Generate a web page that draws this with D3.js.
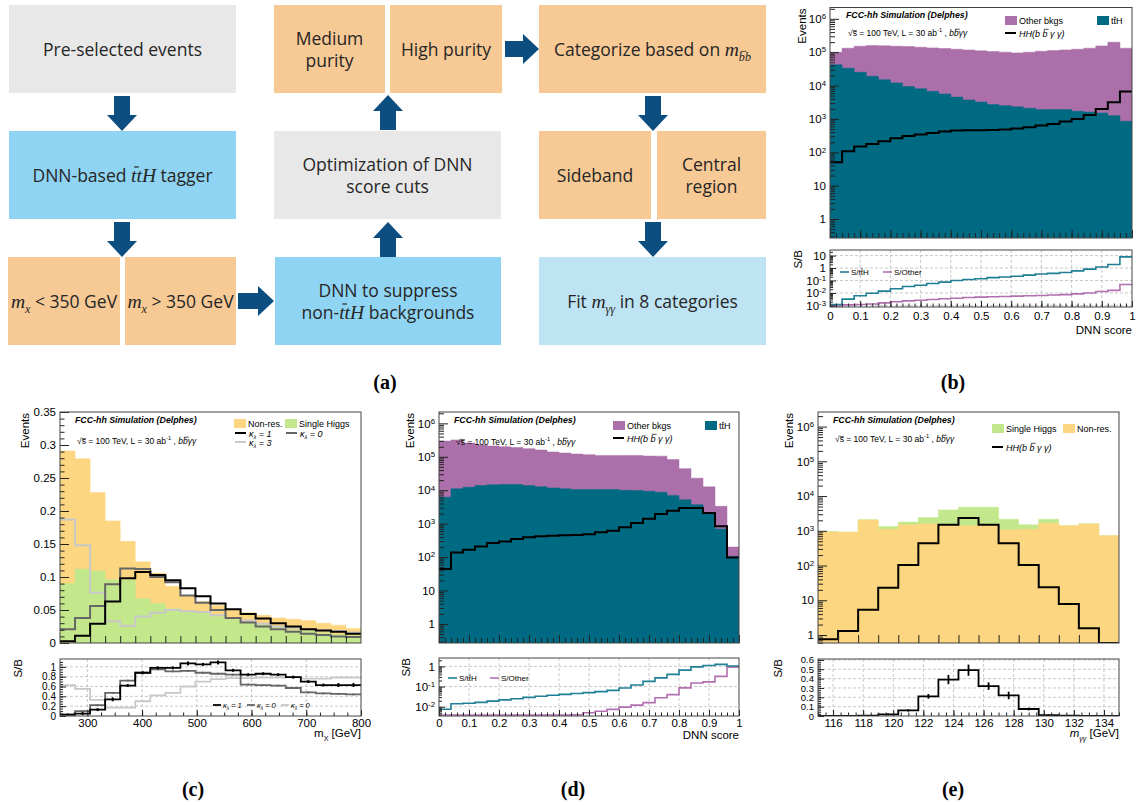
<!DOCTYPE html>
<html><head><meta charset="utf-8">
<script src="https://cdn.jsdelivr.net/npm/d3@7/dist/d3.min.js"></script>
<style>html,body{margin:0;padding:0;background:#fff}svg{display:block}</style>
</head><body>
<svg id="fig" width="1137" height="805"></svg>
<script>
// ================= DATA =================
// (b) DNN ttH-tagger score, 25 bins on [0,1]
const dnnRange = [0, 1];
const dnnBins = 25;
const bTtH   = [4.2e4,3.3e4,2.5e4,1.9e4,1.5e4,1.2e4,9.3e3,8.0e3,6.7e3,5.6e3,4.5e3,3.7e3,3.2e3,2.7e3,2.5e3,2.3e3,2.1e3,1.9e3,1.9e3,1.9e3,1.7e3,1.6e3,1.5e3,1.25e3,850];
const bOther = [5.8e4,9.9e4,1.26e5,1.39e5,1.4e5,1.39e5,1.39e5,1.33e5,1.28e5,1.23e5,1.18e5,1.13e5,1.07e5,1.02e5,9.8e4,9.3e4,9.8e4,1.05e5,1.1e5,1.15e5,1.21e5,1.3e5,1.53e5,1.99e5,1.31e5];
const bHH    = [50,107,148,178,214,263,309,339,380,417,447,457,457,468,479,513,562,631,708,832,1000,1318,1995,3160,6600];
const bRatioTtH   = [1.2e-3,3.2e-3,5.9e-3,9.4e-3,1.4e-2,2.2e-2,3.3e-2,4.2e-2,5.7e-2,7.4e-2,9.9e-2,0.12,0.14,0.17,0.19,0.22,0.27,0.33,0.37,0.44,0.59,0.82,1.2,1.9,7.8];
const bRatioOther = [9e-4,1.1e-3,1.2e-3,1.3e-3,1.6e-3,2.0e-3,2.3e-3,2.6e-3,3.0e-3,3.4e-3,3.8e-3,4.3e-3,4.6e-3,5.0e-3,5.2e-3,5.6e-3,5.9e-3,6.3e-3,6.8e-3,7.4e-3,8.5e-3,1.0e-2,1.3e-2,1.6e-2,4.8e-2];

// (c) m_X, 20 bins on [250,800] GeV
const mxRange = [250, 800];
const mxBins = 20;
const cSingleH = [0.090,0.112,0.109,0.096,0.096,0.067,0.060,0.052,0.048,0.046,0.040,0.036,0.031,0.028,0.023,0.020,0.018,0.015,0.013,0.011];
const cNonRes  = [0.201,0.167,0.119,0.089,0.058,0.056,0.046,0.034,0.024,0.017,0.017,0.015,0.015,0.014,0.015,0.016,0.016,0.015,0.014,0.011];
const cK1 = [0.0025,0.011,0.029,0.063,0.098,0.1075,0.103,0.095,0.083,0.071,0.060,0.051,0.044,0.037,0.030,0.025,0.021,0.019,0.017,0.014];
const cK0 = [0.021,0.038,0.056,0.089,0.113,0.112,0.100,0.092,0.072,0.061,0.050,0.038,0.031,0.025,0.021,0.017,0.014,0.012,0.010,0.009];
const cK3 = [0.187,0.148,0.076,0.033,0.026,0.040,0.046,0.050,0.048,0.047,0.042,0.038,0.034,0.029,0.025,0.023,0.021,0.019,0.018,0.016];
const cRatioK1 = [0.03,0.05,0.13,0.34,0.62,0.88,0.98,0.98,1.07,1.05,1.09,0.93,0.84,0.86,0.84,0.79,0.70,0.63,0.63,0.63];
const cRatioK1Err = [0.02,0.03,0.03,0.04,0.03,0.03,0.03,0.03,0.04,0.03,0.04,0.03,0.03,0.03,0.03,0.03,0.03,0.03,0.04,0.04];
const cRatioK0 = [0.03,0.10,0.22,0.47,0.72,0.88,0.95,0.91,0.92,0.88,0.86,0.84,0.64,0.63,0.62,0.57,0.48,0.46,0.45,0.44];
const cRatioK0Err = [0.01,0.02,0.02,0.02,0.02,0.02,0.02,0.02,0.02,0.02,0.02,0.02,0.02,0.02,0.02,0.02,0.02,0.02,0.02,0.02];
const cRatioK3 = [0.63,0.55,0.33,0.17,0.17,0.30,0.42,0.47,0.60,0.70,0.75,0.77,0.77,0.78,0.78,0.79,0.76,0.76,0.78,0.78];

// (d) DNN score (non-ttH suppression), 25 bins on [0,1]
const dTtH   = [6.2e3,1.1e4,1.23e4,1.38e4,1.45e4,1.48e4,1.48e4,1.38e4,1.26e4,1.17e4,1.1e4,1.05e4,1.05e4,1.05e4,1.05e4,1.0e4,9.8e3,9.3e3,8.7e3,7.0e3,5.2e3,3.7e3,2.1e3,690,105];
const dOther = [2.89e5,3.09e5,2.48e5,2.16e5,1.96e5,1.85e5,1.75e5,1.61e5,1.47e5,1.28e5,1.19e5,1.1e5,1.05e5,9.95e4,9.95e4,1.0e5,1.0e5,9.6e4,9.6e4,7.6e4,3.9e4,1.93e4,1.05e4,2.6e3,95];
const dHH    = [44,137,166,209,263,295,347,389,417,437,447,457,479,550,617,776,1047,1413,1950,2450,2950,2950,2090,830,98];
const dRatioTtH   = [7.5e-3,1.4e-2,1.5e-2,1.65e-2,1.9e-2,2.2e-2,2.5e-2,2.9e-2,3.3e-2,3.7e-2,4.1e-2,4.5e-2,5.0e-2,5.6e-2,6.5e-2,8.5e-2,0.12,0.18,0.27,0.40,0.65,0.95,1.1,1.25,1.05];
const dRatioOther = [1.5e-4,4.3e-4,6.7e-4,9.6e-4,1.3e-3,1.6e-3,1.9e-3,2.3e-3,2.7e-3,3.1e-3,3.5e-3,4.0e-3,5.0e-3,6.0e-3,7.4e-3,9.6e-3,1.2e-2,1.6e-2,2.8e-2,4.0e-2,8.6e-2,0.15,0.17,0.32,0.9];

// (e) m_gammagamma, 15 bins on [115,135] GeV
const mggRange = [115, 135];
const mggBins = 15;
const eNonRes   = [940,910,2060,1110,1490,1590,1490,1400,1490,1070,1110,1650,1400,1560,720];
const eSingleH  = [16,10,30,220,290,810,2500,3390,3300,1090,380,510,0,30,0];
const eHH       = [0.75,1.3,5.3,23,104,440,1490,2320,1490,440,104,23.7,7.8,1.56,0];
const eRatio    = [0,0.001,0.003,0.018,0.06,0.21,0.39,0.49,0.32,0.22,0.075,0.01,0.003,0.001,0];
const eRatioErr = [0,0.002,0.003,0.008,0.012,0.025,0.05,0.06,0.04,0.04,0.015,0.005,0.003,0.001,0];

// tick labels
const dnnTicks = [0,0.1,0.2,0.3,0.4,0.5,0.6,0.7,0.8,0.9,1];
const mxTicks = [300,400,500,600,700,800];
const mggTicks = [116,118,120,122,124,126,128,130,132,134];
const eventsLogTicks = [1,10,1e2,1e3,1e4,1e5,1e6];
const cEventsTicks = [0,0.05,0.1,0.15,0.2,0.25,0.3,0.35];
const cRatioTicks = [0,0.2,0.4,0.6,0.8,1];
const eRatioTicks = [0,0.1,0.2,0.3,0.4,0.5,0.6];
const bRatioTicks = [1e-3,1e-2,1e-1,1,10];
const dRatioTicks = [1e-2,1e-1,1];
const captions = ["(a)","(b)","(c)","(d)","(e)"];

// ================= STYLE / LAYOUT =================
const FONT = '"Liberation Sans", Arial, Helvetica, sans-serif';
const SERIF = '"Liberation Serif", "Times New Roman", serif';
const COL = {teal:"#006a82", purple:"#ab6fa9", orange:"#fdd681", green:"#c3e88c",
             tealLine:"#1f7f95", purpleLine:"#b26fb1", k1:"#000", k0:"#666", k3:"#c8c8c8"};
const svg = d3.select("#fig");
svg.append("rect").attr("width",1137).attr("height",805).attr("fill","#fff");
const overG = () => svg.append("g");

function rich(sel, segs, size) {
  let cur = 0;
  segs.forEach(s => {
    const ts = sel.append("tspan").text(s.t);
    let fs = size * (s.m ? 1.12 : 1);
    let off = 0;
    if (s.sub) { off = size*0.32; fs *= 0.62; }
    if (s.sup) { off = -size*0.42; fs *= 0.68; }
    if (off !== cur) { ts.attr("dy", off-cur); cur = off; }
    ts.attr("font-size", fs);
    if (s.m) ts.attr("font-family", SERIF).attr("font-style","italic");
    if (s.i) ts.attr("font-style","italic");
    if (s.b) ts.attr("font-weight","bold");
    if (s.ov) ts.attr("data-ov", (s.i||s.m) ? "i" : "n");
  });
  return sel;
}
// draw overlines (bars) above marked glyphs, measured from the laid-out text
function overlines(sel, color){
  sel.selectAll("tspan[data-ov]").each(function(){
    const n = this.textContent.length;
    const p0 = this.getStartPositionOfChar(0), p1 = this.getEndPositionOfChar(n-1);
    const fs = +this.getAttribute("font-size");
    const ch = this.textContent[0];
    const h = ch === "b" ? 0.8 : (ch === "s" ? 0.62 : 0.74);
    const sk = this.getAttribute("data-ov") === "i" ? fs*0.12 : 0;
    svg.append("line").attr("x1", p0.x + sk + fs*0.04).attr("x2", p1.x + sk)
      .attr("y1", p0.y - fs*h).attr("y2", p0.y - fs*h)
      .attr("stroke", color || "#000").attr("stroke-width", Math.max(0.7, fs*0.06));
  });
}
function text(x, y, segs, size, opts={}) {
  const t = svg.append("text").attr("x",x).attr("y",y)
    .attr("font-family", opts.family || FONT).attr("fill", opts.fill || "#000")
    .attr("text-anchor", opts.anchor || "start").attr("font-size", size);
  if (opts.rotate) t.attr("transform", `rotate(${opts.rotate},${x},${y})`);
  if (opts.weight) t.attr("font-weight", opts.weight);
  if (opts.style) t.attr("font-style", opts.style);
  rich(t, typeof segs === "string" ? [{t:segs}] : segs, size);
  overlines(t, opts.fill);
  return t;
}

// ================= (a) FLOWCHART =================
const flowFill = {grey:"#e8e8e8", blue:"#8fd4f2", orange:"#f7c995", light:"#bee4f4"};
const flowBoxes = [
 {r:[9,5,236,93], fill:"grey", lines:[[{t:"Pre-selected events"}]]},
 {r:[9,131,236,219], fill:"blue", lines:[[{t:"DNN-based "},{t:"t",m:1,ov:1},{t:"tH",m:1},{t:" tagger"}]]},
 {r:[8,257,120,345], fill:"orange", lines:[[{t:"m",m:1},{t:"x",m:1,sub:1},{t:" < 350 GeV"}]]},
 {r:[125,257,236,345], fill:"orange", lines:[[{t:"m",m:1},{t:"x",m:1,sub:1},{t:" > 350 GeV"}]]},
 {r:[275,257,501,345], fill:"blue", lines:[[{t:"DNN to suppress"}],[{t:"non-"},{t:"t",m:1,ov:1},{t:"tH",m:1},{t:" backgrounds"}]]},
 {r:[274,131,501,219], fill:"grey", lines:[[{t:"Optimization of DNN"}],[{t:"score cuts"}]]},
 {r:[274,5,385,93], fill:"orange", lines:[[{t:"Medium"}],[{t:"purity"}]]},
 {r:[390,5,502,93], fill:"orange", lines:[[{t:"High purity"}]]},
 {r:[539,5,766,93], fill:"orange", lines:[[{t:"Categorize based on "},{t:"m",m:1},{t:"b",m:1,sub:1,ov:1},{t:"b",m:1,sub:1}]]},
 {r:[539,131,651,219], fill:"orange", lines:[[{t:"Sideband"}]]},
 {r:[657,131,766,219], fill:"orange", lines:[[{t:"Central"}],[{t:"region"}]]},
 {r:[539,257,766,345], fill:"light", lines:[[{t:"Fit "},{t:"m",m:1},{t:"γγ",m:1,sub:1},{t:" in 8 categories"}]]}
];
const flowArrows = [
 [[122,96],[122,131]], [[122,222],[122,257]], [[238,301],[274,301]],
 [[388,257],[388,222]], [[388,130],[388,95]], [[505,49],[539,49]],
 [[653,96],[653,131]], [[653,222],[653,257]]
];
flowBoxes.forEach(b => {
  const [x0,y0,x1,y1] = b.r;
  svg.append("rect").attr("x",x0).attr("y",y0).attr("width",x1-x0).attr("height",y1-y0).attr("fill",flowFill[b.fill]);
  const cx = (x0+x1)/2, cy = (y0+y1)/2, n = b.lines.length;
  b.lines.forEach((ln,i) => {
    const yy = cy + (i-(n-1)/2)*22 + 6.5;
    const t = svg.append("text").attr("x",cx).attr("y",yy).attr("text-anchor","middle")
      .attr("font-family",'"Open Sans", "Noto Sans", sans-serif').attr("fill","#262626");
    rich(t, ln, 17.5);
    overlines(t, "#262626");
  });
});
flowArrows.forEach(([s,e]) => {
  const dx=e[0]-s[0], dy=e[1]-s[1], L=Math.hypot(dx,dy), ux=dx/L, uy=dy/L, nx=-uy, ny=ux;
  const hw=8, HW=15, hl=16;
  const hb=[e[0]-hl*ux, e[1]-hl*uy];
  const pts=[[s[0]+hw*nx,s[1]+hw*ny],[hb[0]+hw*nx,hb[1]+hw*ny],[hb[0]+HW*nx,hb[1]+HW*ny],e,
             [hb[0]-HW*nx,hb[1]-HW*ny],[hb[0]-hw*nx,hb[1]-hw*ny],[s[0]-hw*nx,s[1]-hw*ny]];
  svg.append("polygon").attr("points",pts.map(p=>p.join(",")).join(" ")).attr("fill","#0d4e80");
});

// ================= HISTOGRAM HELPERS =================
function edgesOf(range, n){ return d3.range(n+1).map(i => range[0] + i*(range[1]-range[0])/n); }
function logMinors(lo, hi){ const out=[]; for(let e=Math.floor(Math.log10(lo)); e<=Math.ceil(Math.log10(hi)); e++) for(let k=2;k<=9;k++){const v=k*Math.pow(10,e); if(v>lo&&v<hi) out.push(v);} return out; }
function linMinors(lo, hi, step){ const out=[]; const n=Math.round((hi-lo)/step); for(let i=0;i<=n;i++) out.push(+(lo+i*step).toFixed(6)); return out; }
let clipId = 0;
function clipG(x0,y0,x1,y1){
  const id = "clip"+(clipId++);
  svg.append("clipPath").attr("id",id).append("rect").attr("x",x0).attr("y",y0).attr("width",x1-x0).attr("height",y1-y0);
  return svg.append("g").attr("clip-path",`url(#${id})`);
}
function drawStack(g, x, y, edges, keys, rows, colors, bottomPx){
  const series = d3.stack().keys(keys)(rows);
  const area = d3.area().x(d=>x(d.x)).y0(bottomPx).y1(d=>y(d.hi));
  for (let k = series.length-1; k >= 0; k--) {
    const pts=[]; series[k].forEach((d,i)=>{pts.push({x:edges[i],hi:d[1]}); pts.push({x:edges[i+1],hi:d[1]});});
    g.append("path").attr("d",area(pts)).attr("fill",colors[k]).attr("stroke",colors[k]).attr("stroke-width",0.5);
  }
}
function drawStep(g, x, y, edges, vals, color, width){
  const pts=[]; vals.forEach((v,i)=>{pts.push({x:edges[i],v}); pts.push({x:edges[i+1],v});});
  g.append("path").attr("d", d3.line().x(d=>x(d.x)).y(d=>y(d.v))(pts))
    .attr("fill","none").attr("stroke",color).attr("stroke-width",width);
}
function drawErr(g, x, y, edges, vals, errs, color, width){
  vals.forEach((v,i)=>{ if(!errs[i]) return; const cx=(edges[i]+edges[i+1])/2;
    g.append("line").attr("x1",x(cx)).attr("x2",x(cx)).attr("y1",y(v-errs[i])).attr("y2",y(v+errs[i]))
      .attr("stroke",color).attr("stroke-width",width); });
}
function styleAxis(a, fs){
  a.select(".domain").remove();
  a.selectAll(".tick line").attr("stroke","#222").attr("stroke-width",1);
  a.selectAll("text").attr("font-size",fs).attr("font-family",FONT).attr("fill","#000");
  return a;
}
function yAxis(x0, y, majors, minors, fmt, majLen, minLen, fs, log){
  const a = svg.append("g").attr("transform",`translate(${x0},0)`)
    .call(d3.axisLeft(y).tickValues(majors).tickSizeInner(-majLen).tickSizeOuter(0).tickPadding(4).tickFormat(fmt || ""));
  styleAxis(a, fs);
  if (log) a.selectAll(".tick text").each(function(d){
    const e = Math.round(Math.log10(d)); const t = d3.select(this); t.text(null);
    if (e===0) t.text("1"); else if (e===1) t.text("10");
    else { t.append("tspan").text("10"); t.append("tspan").attr("dy","-0.5em").attr("font-size","0.68em").text(e); }
  });
  if (minors) styleAxis(svg.append("g").attr("transform",`translate(${x0},0)`)
    .call(d3.axisLeft(y).tickValues(minors).tickSizeInner(-minLen).tickSizeOuter(0).tickFormat("")), fs);
  return a;
}
function xAxis(y0, x, majors, minors, fmt, majLen, minLen, fs, pad){
  const a = svg.append("g").attr("transform",`translate(0,${y0})`)
    .call(d3.axisBottom(x).tickValues(majors).tickSizeInner(-majLen).tickSizeOuter(0).tickPadding(pad||3).tickFormat(fmt || ""));
  styleAxis(a, fs);
  if (minors) styleAxis(svg.append("g").attr("transform",`translate(0,${y0})`)
    .call(d3.axisBottom(x).tickValues(minors).tickSizeInner(-minLen).tickSizeOuter(0).tickFormat("")), fs);
  return a;
}
function grid(x, y, P, xs, ys){
  const g = svg.append("g").attr("stroke","#bbb").attr("stroke-width",0.8).attr("stroke-dasharray","3,2");
  xs.forEach(v=>g.append("line").attr("x1",x(v)).attr("x2",x(v)).attr("y1",P.r0).attr("y2",P.r1));
  ys.forEach(v=>g.append("line").attr("x1",P.x0).attr("x2",P.x1).attr("y1",y(v)).attr("y2",y(v)));
}
function frame(x0,y0,x1,y1){
  svg.append("rect").attr("x",x0).attr("y",y0).attr("width",x1-x0).attr("height",y1-y0)
    .attr("fill","none").attr("stroke","#444").attr("stroke-width",1);
}
function legBox(x,y,color){ svg.append("rect").attr("x",x).attr("y",y).attr("width",12).attr("height",9).attr("fill",color); }
function legLine(x,y,color,w,len){ svg.append("line").attr("x1",x).attr("x2",x+(len||11)).attr("y1",y).attr("y2",y).attr("stroke",color).attr("stroke-width",w||2); }
const numFmt = d => String(+(+d).toFixed(2));
const sqrtS = [{t:"√"},{t:"s",ov:1},{t:" = 100 TeV, L = 30 ab"},{t:"-1",sup:1},{t:"  , "},{t:"b",i:1},{t:"b",i:1,ov:1},{t:"γγ",i:1}];
const hhLabel = [{t:"HH(b ",i:1},{t:"b",i:1,ov:1},{t:" γ γ)",i:1}];
const tthLabel = [{t:"t"},{t:"t",ov:1},{t:"H"}];

function header(x, y1, y2){
  text(x, y1, [{t:"FCC-hh Simulation (Delphes)"}], 8.8, {weight:"bold", style:"italic"});
  text(x+2, y2, sqrtS, 8.5);
}

// ================= (b) and (d): DNN score panels =================
function dnnPanel(P, ttH, other, hh, rTtH, rOther, rDomain, rTicks, leg, rleg){
  const edges = edgesOf(dnnRange, dnnBins);
  const x = d3.scaleLinear().domain(dnnRange).range([P.x0, P.x1]);
  const y = d3.scaleLog().domain([Math.pow(10,-0.57), Math.pow(10,6.34)]).range([P.t1, P.t0]).clamp(true);
  const g = clipG(P.x0, P.t0, P.x1, P.t1);
  drawStack(g, x, y, edges, ["ttH","other"], ttH.map((v,i)=>({ttH:v, other:other[i]})), [COL.teal, COL.purple], P.t1);
  drawStep(g, x, y, edges, hh, "#000", 2);
  xAxis(P.t1, x, dnnTicks, linMinors(0,1,0.02), null, 8, 5, 11.5);
  yAxis(P.x0, y, eventsLogTicks, logMinors(y.domain()[0], y.domain()[1]), d=>d, 9, 5, 11.5, true);
  frame(P.x0, P.t0, P.x1, P.t1);
  text(P.ylab, P.t0+1, "Events", 11.5, {anchor:"end", rotate:-90});
  header(P.hx, P.hy1, P.hy2);
  legBox(leg.x, leg.y, COL.purple); text(leg.x+14, leg.y+8, "Other bkgs", 9);
  legBox(leg.x2, leg.y, COL.teal); text(leg.x2+14, leg.y+8, tthLabel, 9);
  legLine(leg.x, leg.y+17, "#000", 2); text(leg.x+14, leg.y+20.5, hhLabel, 9);
  // ratio
  const yr = d3.scaleLog().domain(rDomain).range([P.r1-1, P.r0]).clamp(true);
  grid(x, yr, P, dnnTicks.slice(1,-1), rTicks.filter(v=>v>rDomain[0]&&v<rDomain[1]));
  const gr = clipG(P.x0, P.r0-1, P.x1, P.r1+1);
  drawStep(gr, x, yr, edges, rOther, COL.purpleLine, 1.6);
  drawStep(gr, x, yr, edges, rTtH, COL.tealLine, 1.6);
  xAxis(P.r1, x, dnnTicks, linMinors(0,1,0.02), numFmt, 6, 3.5, 11.5, P.xpad);
  yAxis(P.x0, yr, rTicks, logMinors(rDomain[0], rDomain[1]), d=>d, 6, 3, 11.5, true);
  frame(P.x0, P.r0, P.x1, P.r1);
  text(P.ylab-4, P.r0, "S/B", 11.5, {anchor:"end", rotate:-90});
  text(P.x1, P.xtitle, "DNN score", 11.5, {anchor:"end"});
  legLine(rleg.x, rleg.y, COL.tealLine, 1.6, 9); text(rleg.x+11, rleg.y+3, [{t:"S/t"},{t:"t",ov:1},{t:"H"}], 8);
  legLine(rleg.x2, rleg.y, COL.purpleLine, 1.6, 9); text(rleg.x2+11, rleg.y+3, "S/Other", 8);
}
dnnPanel({x0:830,x1:1132,t0:7.5,t1:238,r0:250,r1:307,ylab:806,hx:846,hy1:18,hy2:36,xpad:5,xtitle:334},
  bTtH, bOther, bHH, bRatioTtH, bRatioOther, [9e-4, 28], bRatioTicks,
  {x:1005, y:16, x2:1097}, {x:840, y:272, x2:883});
dnnPanel({x0:439,x1:739,t0:412,t1:643,r0:658,r1:716,ylab:414,hx:454,hy1:423,hy2:445,xpad:3,xtitle:739},
  dTtH, dOther, dHH, dRatioTtH, dRatioOther, [3.9e-3, 2.6], dRatioTicks,
  {x:613, y:421, x2:705}, {x:448, y:678, x2:490});

// ================= (c): m_X panel =================
(function(){
  const P = {x0:60,x1:361,t0:412,t1:643,r0:659,r1:716};
  const edges = edgesOf(mxRange, mxBins);
  const x = d3.scaleLinear().domain(mxRange).range([P.x0, P.x1]);
  const y = d3.scaleLinear().domain([0, 0.35]).range([P.t1, P.t0]);
  const g = clipG(P.x0, P.t0, P.x1, P.t1);
  drawStack(g, x, y, edges, ["sh","nr"], cSingleH.map((v,i)=>({sh:v, nr:cNonRes[i]})), [COL.green, COL.orange], P.t1);
  drawStep(g, x, y, edges, cK3, COL.k3, 2);
  drawStep(g, x, y, edges, cK0, COL.k0, 2);
  drawStep(g, x, y, edges, cK1, COL.k1, 2);
  xAxis(P.t1, x, edges.slice(1,-1), null, null, 7, 0, 11.5);
  yAxis(P.x0, y, cEventsTicks, linMinors(0,0.35,0.01), numFmt, 9, 4.5, 11.5);
  frame(P.x0, P.t0, P.x1, P.t1);
  text(29, P.t0+1, "Events", 11.5, {anchor:"end", rotate:-90});
  header(75, 423, 444);
  legBox(234, 419, COL.orange); text(248, 427, "Non-res.", 9);
  legBox(285, 419, COL.green); text(299, 427, "Single Higgs", 9);
  const kl = v => [{t:"κ",i:1},{t:"λ",i:1,sub:1},{t:" = "+v,i:1}];
  legLine(235, 433, COL.k1, 2); text(249, 436.5, kl(1), 9);
  legLine(286, 433, COL.k0, 2); text(300, 436.5, kl(0), 9);
  legLine(235, 442, COL.k3, 2); text(249, 445.5, kl(3), 9);
  // ratio
  const yr = d3.scaleLinear().domain([0, 1.16]).range([P.r1, P.r0]);
  grid(x, yr, P, mxTicks.slice(0,-1), cRatioTicks.slice(1));
  const gr = clipG(P.x0, P.r0, P.x1, P.r1);
  drawStep(gr, x, yr, edges, cRatioK3, COL.k3, 1.8);
  drawStep(gr, x, yr, edges, cRatioK0, COL.k0, 1.8);
  drawErr(gr, x, yr, edges, cRatioK0, cRatioK0Err, COL.k0, 2);
  drawStep(gr, x, yr, edges, cRatioK1, COL.k1, 1.8);
  drawErr(gr, x, yr, edges, cRatioK1, cRatioK1Err, COL.k1, 2);
  xAxis(P.r1, x, mxTicks, linMinors(250,800,25), d=>d, 6, 3.5, 11.5, 3);
  yAxis(P.x0, yr, cRatioTicks, linMinors(0,1.1,0.05), numFmt, 6, 3, 10, false);
  frame(P.x0, P.r0, P.x1, P.r1);
  text(22, P.r0, "S/B", 11.5, {anchor:"end", rotate:-90});
  text(P.x1, 737, [{t:"m"},{t:"X",sub:1},{t:" [GeV]"}], 11.5, {anchor:"end"});
  const kr = v => [{t:"κ",i:1},{t:"λ",i:1,sub:1},{t:" = "+v,i:1}];
  legLine(213, 705, COL.k1, 1.8, 8); text(223, 707.5, kr(1), 7.5);
  legLine(247, 705, COL.k0, 1.8, 8); text(257, 707.5, kr(0), 7.5);
  legLine(281, 705, COL.k3, 1.8, 8); text(291, 707.5, kr(0), 7.5);
})();

// ================= (e): m_gammagamma panel =================
(function(){
  const P = {x0:818,x1:1119,t0:412,t1:643,r0:659,r1:716};
  const edges = edgesOf(mggRange, mggBins);
  const x = d3.scaleLinear().domain(mggRange).range([P.x0, P.x1]);
  const y = d3.scaleLog().domain([Math.pow(10,-0.23), Math.pow(10,6.42)]).range([P.t1, P.t0]).clamp(true);
  const g = clipG(P.x0, P.t0, P.x1, P.t1);
  drawStack(g, x, y, edges, ["nr","sh"], eNonRes.map((v,i)=>({nr:v, sh:eSingleH[i]})), [COL.orange, COL.green], P.t1);
  drawStep(g, x, y, edges, eHH, "#000", 2);
  xAxis(P.t1, x, edges.slice(1,-1), null, null, 8, 0, 11.5);
  yAxis(P.x0, y, eventsLogTicks, logMinors(y.domain()[0], y.domain()[1]), d=>d, 9, 5, 11.5, true);
  frame(P.x0, P.t0, P.x1, P.t1);
  text(793, P.t0+1, "Events", 11.5, {anchor:"end", rotate:-90});
  header(833, 423, 442);
  legBox(992, 424, COL.green); text(1006, 432, "Single Higgs", 9);
  legBox(1063, 424, COL.orange); text(1077, 432, "Non-res.", 9);
  legLine(992, 447, "#000", 2); text(1006, 450.5, hhLabel, 9);
  // ratio
  const yr = d3.scaleLinear().domain([0, 0.61]).range([P.r1, P.r0]);
  grid(x, yr, P, mggTicks, eRatioTicks.slice(1));
  const gr = clipG(P.x0, P.r0-1, P.x1, P.r1);
  drawStep(gr, x, yr, edges, eRatio, "#000", 1.8);
  drawErr(gr, x, yr, edges, eRatio, eRatioErr, "#000", 1.8);
  xAxis(P.r1, x, mggTicks, linMinors(115,135,0.5), d=>d, 6, 3.5, 11.5, 3);
  yAxis(P.x0, yr, eRatioTicks, linMinors(0,0.6,0.02), numFmt, 6, 3, 9.5, false);
  frame(P.x0, P.r0, P.x1, P.r1);
  text(782, P.r0, "S/B", 11.5, {anchor:"end", rotate:-90});
  text(P.x1, 737, [{t:"m",i:1},{t:"γγ",i:1,sub:1},{t:" [GeV]"}], 11.5, {anchor:"end"});
})();

// ================= captions =================
const capPos = [[385,389],[953,389],[193,796],[573,796],[953,796]];
captions.forEach((c,i)=> text(capPos[i][0], capPos[i][1], c, 20, {anchor:"middle", family:SERIF, weight:"bold"}));
</script>
</body></html>
